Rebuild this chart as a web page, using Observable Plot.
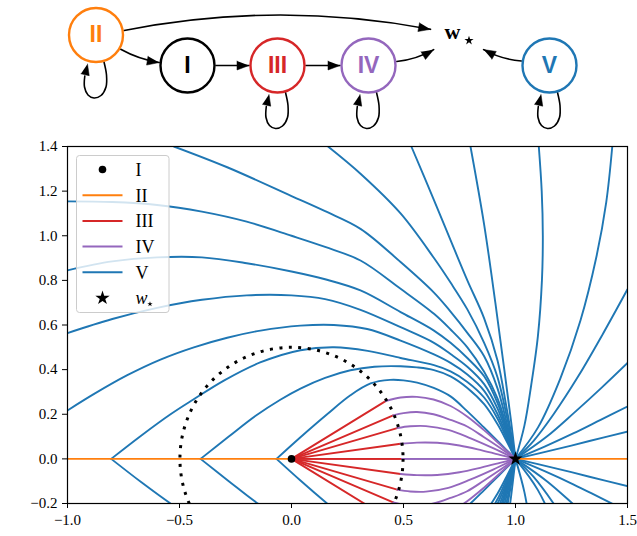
<!DOCTYPE html>
<html><head><meta charset="utf-8">
<script src="https://cdn.jsdelivr.net/npm/d3@7"></script>
<script src="https://cdn.jsdelivr.net/npm/@observablehq/plot@0.6"></script>
<style>
body{margin:0;background:#fff;}
#wrap{position:relative;width:637px;height:536px;background:#fff;}
#wrap svg{display:block;}
#legend{position:absolute;left:76px;top:155px;}
</style></head><body><div id="wrap"></div>
<script>
// ---------------- DATA ----------------
const xDomain = [-1, 1.5];
const yDomain = [-0.2, 1.4];
const xTicks = [-1, -0.5, 0, 0.5, 1, 1.5];
const yTicks = [-0.2, 0, 0.2, 0.4, 0.6, 0.8, 1.0, 1.2, 1.4];

const saddle = [{x: 0, y: 0}];        // I
const wStar = [{x: 1, y: 0}];         // w*
const basinRadius = 0.5;              // dotted circle

// phase II (orange) segments on the axis
const orangeSegments = [
  [[-1, 0], [0, 0]],
  [[1, 0], [1.5, 0]]
];

// phase IV (purple) curves, upper half; first point = end of the red phase III ray
const purpleUpper = [
  [[0.42,0.259],[0.487,0.275],[0.56,0.278],[0.634,0.266],[0.71,0.237],[0.784,0.19],[0.858,0.13],[0.93,0.065],[1,0]],
  [[0.454,0.195],[0.5,0.205],[0.56,0.21],[0.634,0.2],[0.71,0.175],[0.784,0.145],[0.858,0.098],[0.93,0.05],[1,0]],
  [[0.472,0.138],[0.53,0.146],[0.6,0.147],[0.7,0.13],[0.8,0.092],[0.9,0.048],[1,0]],
  [[0.487,0.068],[0.56,0.073],[0.65,0.072],[0.75,0.06],[0.85,0.038],[0.93,0.018],[1,0]],
  [[0.494,0],[1,0]]
];

// phase V (blue) curves, upper half
const blueUpper = [
  [[-0.067,0],[0.04,0.097],[0.159,0.2],[0.263,0.285],[0.353,0.338],[0.44,0.354],[0.5,0.352],[0.561,0.342],[0.635,0.318],[0.71,0.28],[0.784,0.214],[0.858,0.142],[0.93,0.07],[1,0]],
  [[-0.406,0],[-0.28,0.1],[-0.16,0.193],[-0.05,0.265],[0.04,0.315],[0.15,0.363],[0.263,0.397],[0.37,0.413],[0.487,0.415],[0.56,0.41],[0.636,0.398],[0.71,0.37],[0.785,0.318],[0.86,0.245],[0.92,0.155],[0.96,0.08],[1,0]],
  [[-0.805,0],[-0.67,0.105],[-0.54,0.2],[-0.44,0.265],[-0.3,0.352],[-0.14,0.432],[0.04,0.487],[0.19,0.5],[0.34,0.484],[0.487,0.452],[0.636,0.42],[0.71,0.392],[0.785,0.345],[0.86,0.275],[0.92,0.18],[0.96,0.092],[1,0]],
  [[-1,0.217],[-0.883,0.29],[-0.733,0.375],[-0.585,0.445],[-0.436,0.5],[-0.287,0.543],[-0.138,0.575],[0.04,0.597],[0.189,0.6],[0.338,0.582],[0.487,0.53],[0.636,0.468],[0.71,0.43],[0.785,0.378],[0.86,0.305],[0.92,0.2],[0.96,0.105],[1,0]],
  [[-1,0.564],[-0.8,0.627],[-0.6,0.677],[-0.4,0.713],[-0.2,0.733],[0,0.733],[0.15,0.716],[0.308,0.668],[0.487,0.59],[0.636,0.52],[0.71,0.47],[0.785,0.413],[0.86,0.335],[0.92,0.225],[0.96,0.117],[1,0]],
  [[-1,0.845],[-0.8,0.885],[-0.6,0.903],[-0.4,0.903],[-0.2,0.877],[0,0.84],[0.15,0.805],[0.308,0.755],[0.487,0.658],[0.636,0.575],[0.71,0.52],[0.785,0.452],[0.86,0.37],[0.92,0.25],[0.96,0.13],[1,0]],
  [[-1,1.154],[-0.8,1.151],[-0.6,1.138],[-0.4,1.108],[-0.2,1.063],[0,1.0],[0.15,0.95],[0.308,0.889],[0.487,0.762],[0.636,0.65],[0.71,0.58],[0.785,0.5],[0.86,0.39],[0.92,0.27],[0.96,0.145],[1,0]],
  [[-0.525,1.4],[-0.287,1.307],[0,1.178],[0.15,1.11],[0.308,1.031],[0.487,0.882],[0.636,0.745],[0.71,0.66],[0.785,0.565],[0.86,0.46],[0.92,0.315],[0.96,0.165],[1,0]],
  [[0.163,1.4],[0.308,1.278],[0.487,1.1],[0.636,0.9],[0.71,0.79],[0.785,0.67],[0.86,0.52],[0.92,0.365],[0.96,0.195],[1,0]],
  [[0.535,1.4],[0.636,1.16],[0.71,0.98],[0.785,0.8],[0.86,0.63],[0.92,0.44],[0.96,0.23],[1,0]],
  [[0.799,1.4],[0.86,1.05],[0.91,0.7],[0.95,0.4],[0.98,0.17],[1,0]],
  [[1.104,1.4],[1.117,1.2],[1.122,1.0],[1.118,0.8],[1.1,0.55],[1.07,0.33],[1.04,0.15],[1,0]],
  [[1.432,1.4],[1.405,1.15],[1.36,0.9],[1.29,0.62],[1.2,0.36],[1.1,0.14],[1,0]],
  [[1.5,0.76],[1.39,0.56],[1.28,0.37],[1.17,0.2],[1.08,0.08],[1,0]],
  [[1.5,0.43],[1.38,0.315],[1.26,0.205],[1.14,0.1],[1,0]],
  [[1.5,0.235],[1.38,0.175],[1.26,0.115],[1.13,0.055],[1,0]],
  [[1.5,0.122],[1.33,0.08],[1.17,0.04],[1,0]]
];

// diagram
const phaseLabels = ["II", "I", "III", "IV", "V"];
const phaseColors = ["#ff7f0e", "#000000", "#d62728", "#9467bd", "#1f77b4"];
const phaseHasLoop = [true, false, true, true, true];

// legend
const legendLabels = ["I", "II", "III", "IV", "V", "w"];
const colors = {blue: "#1f77b4", orange: "#ff7f0e", red: "#d62728", purple: "#9467bd"};

// ---------------- LAYOUT (diagram geometry, pixels) ----------------
const nodeLayout = {II: [95.5, 34.5], I: [187, 65], III: [277, 65], IV: [368, 65], V: [549, 65], W: [455, 36]};
const nodeR = 27;
const edges = [
  {from: "II", to: "I", a0: 30, a1: 186, r1: 28.5, bend: -10},
  {from: "I", to: "III", a0: 0, a1: 180, r1: 28.5, bend: 0},
  {from: "III", to: "IV", a0: 0, a1: 180, r1: 28.5, bend: 0},
  {from: "II", to: "W", a0: -9, a1: 196, r1: 26, bend: 11},
  {from: "IV", to: "W", a0: -8, a1: 149, r1: 25.5, bend: -12},
  {from: "V", to: "W", a0: 189, a1: 25, r1: 31, bend: 12}
];
const loopShape = [[8,27],[10.5,40],[10,52],[5,60.5],[-2,63],[-8,60],[-11.5,52],[-11.2,41]];
const loopTip = [-8.5, 29];

// ---------------- BUILD ----------------
const rad = Math.PI / 180;
function rows(curves, prefix, mirror) {
  const out = [];
  curves.forEach((c, i) => c.forEach(([x, y]) => {
    out.push({id: prefix + i, x, y});
    if (mirror) out.push({id: prefix + i + "m", x, y: -y});
  }));
  return out;
}
const blueRows = rows(blueUpper, "b", true);
const purpleRows = rows(purpleUpper, "p", true);
const redRows = rows(purpleUpper.map(c => [[saddle[0].x, saddle[0].y], c[0]]), "r", true);
const orangeRows = rows(orangeSegments, "o", false);

const W = 637, Htop = 132, H = 404, mt = 14, mb = 33, ml = 67, mr = 10;
const pxPerUnit = (H - mt - mb) / (yDomain[1] - yDomain[0]);
const fmt = d3.format(".1f");

const main = Plot.plot({
  width: W, height: H, marginTop: mt, marginBottom: mb, marginLeft: ml, marginRight: mr,
  x: {domain: xDomain, ticks: xTicks, tickFormat: fmt, tickSize: 5, tickPadding: 6, label: null},
  y: {domain: yDomain, ticks: yTicks, tickFormat: fmt, tickSize: 5, tickPadding: 5, label: null},
  style: {fontFamily: "Liberation Serif, serif", fontSize: "15px", color: "black", background: "white", overflow: "visible"},
  marks: [
    Plot.line(blueRows, {x: "x", y: "y", z: "id", stroke: colors.blue, strokeWidth: 1.9, curve: "catmull-rom", clip: true}),
    Plot.line(orangeRows, {x: "x", y: "y", z: "id", stroke: colors.orange, strokeWidth: 1.9, clip: true}),
    Plot.line(redRows, {x: "x", y: "y", z: "id", stroke: colors.red, strokeWidth: 1.9, clip: true}),
    Plot.line(purpleRows, {x: "x", y: "y", z: "id", stroke: colors.purple, strokeWidth: 1.9, curve: "catmull-rom", clip: true}),
    Plot.dot(saddle, {x: "x", y: "y", r: basinRadius * pxPerUnit, fill: "none", stroke: "black", strokeWidth: 3, strokeDasharray: "3,6.5", clip: true}),
    Plot.dot(saddle, {x: "x", y: "y", r: 3.8, fill: "black", stroke: "none"}),
    Plot.dot(wStar, {x: "x", y: "y", r: 4.5, symbol: "star", fill: "black", stroke: "none"}),
    Plot.frame({stroke: "black", strokeWidth: 1.2})
  ]
});

// ---- diagram ----
const nodeRows = phaseLabels.map((l, i) => ({label: l, color: phaseColors[i], x: nodeLayout[l][0], y: nodeLayout[l][1], loop: phaseHasLoop[i]}));
const pt = (id, a, r) => [nodeLayout[id][0] + r * Math.cos(a * rad), nodeLayout[id][1] + r * Math.sin(a * rad)];
function headTri(id, tip, phi, L, Wd) {
  const dx = Math.cos(phi), dy = Math.sin(phi);
  const bx = tip[0] - L * dx, by = tip[1] - L * dy;
  return [
    {id, x: tip[0], y: tip[1]},
    {id, x: bx - Wd / 2 * dy, y: by + Wd / 2 * dx},
    {id, x: bx + Wd / 2 * dy, y: by - Wd / 2 * dx}
  ];
}
const arrowMarks = [];
const heads = [];
edges.forEach((e, i) => {
  const s = pt(e.from, e.a0, 28.5), t = pt(e.to, e.a1, e.r1);
  arrowMarks.push(Plot.arrow([{x1: s[0], y1: s[1], x2: t[0], y2: t[1]}], {x1: "x1", y1: "y1", x2: "x2", y2: "y2", bend: e.bend, headLength: 0, stroke: "black", strokeWidth: 1.6}));
  const phi = Math.atan2(t[1] - s[1], t[0] - s[0]) + e.bend * rad;
  heads.push(...headTri("e" + i, t, phi, 12, 9));
});
const loopRows = [];
nodeRows.filter(n => n.loop).forEach(n => {
  loopShape.forEach(([dx, dy]) => loopRows.push({id: n.label, x: n.x + dx, y: n.y + dy}));
  const base = loopShape[loopShape.length - 1];
  const phi = Math.atan2(loopTip[1] - base[1], loopTip[0] - base[0]);
  heads.push(...headTri("l" + n.label, [n.x + loopTip[0], n.y + loopTip[1]], phi, 11, 8.5));
});
const wLabel = [{x: nodeLayout.W[0] - 3, y: nodeLayout.W[1] - 4.5}];
const wSub = [{x: nodeLayout.W[0] + 13.5, y: nodeLayout.W[1] + 4}];
const diagram = Plot.plot({
  width: W, height: Htop, margin: 0,
  x: {domain: [0, W], range: [0, W], axis: null},
  y: {domain: [0, Htop], range: [0, Htop], axis: null},
  style: {background: "white"},
  marks: [
    ...arrowMarks,
    Plot.line(loopRows, {x: "x", y: "y", z: "id", stroke: "black", strokeWidth: 1.6, curve: "catmull-rom"}),
    Plot.line(heads, {x: "x", y: "y", z: "id", fill: "black", stroke: "black", strokeWidth: 0.5}),
    Plot.dot(nodeRows, {x: "x", y: "y", r: nodeR, stroke: "color", fill: "white", strokeWidth: 2.4}),
    Plot.text(nodeRows, {x: "x", y: "y", text: "label", fill: "color", fontSize: 23, fontWeight: "bold", fontFamily: "Liberation Sans, Arial, sans-serif"}),
    Plot.text(wLabel, {x: "x", y: "y", text: () => "w", fontSize: 22, fontWeight: "bold", fontFamily: "Liberation Serif, serif", fill: "black"}),
    Plot.dot(wSub, {x: "x", y: "y", r: 2.9, symbol: "star", fill: "black", stroke: "none"})
  ]
});

const wrap = document.getElementById("wrap");
wrap.appendChild(diagram);
wrap.appendChild(main);

// ---- legend ----
const lg = d3.create("svg").attr("width", 95).attr("height", 160).attr("id", "legend");
lg.append("rect").attr("x", 0.5).attr("y", 0.5).attr("width", 92.5).attr("height", 157).attr("rx", 3)
  .attr("fill", "white").attr("fill-opacity", 0.8).attr("stroke", "#cccccc").attr("stroke-width", 1);
const handleColors = [null, colors.orange, colors.red, colors.purple, colors.blue, null];
legendLabels.forEach((lab, i) => {
  const y = 14.5 + i * 25.7;
  if (i === 0) lg.append("circle").attr("cx", 26.5).attr("cy", y).attr("r", 3.8).attr("fill", "black");
  else if (i === 5) lg.append("path").attr("d", d3.symbol(d3.symbolStar, 64)()).attr("transform", `translate(26.5,${y})`).attr("fill", "black");
  else lg.append("line").attr("x1", 6.5).attr("x2", 46.5).attr("y1", y).attr("y2", y).attr("stroke", handleColors[i]).attr("stroke-width", 2);
  const t = lg.append("text").attr("x", 59.5).attr("y", y).attr("dy", "0.36em")
    .attr("font-family", "Liberation Serif, serif").attr("font-size", 18).attr("fill", "black");
  if (i === 5) {
    t.append("tspan").attr("font-style", "italic").text(lab);
    lg.append("path").attr("d", d3.symbol(d3.symbolStar, 9)()).attr("transform", `translate(74,${y + 6})`).attr("fill", "black");
  } else t.text(lab);
});
wrap.appendChild(lg.node());
</script></body></html>
